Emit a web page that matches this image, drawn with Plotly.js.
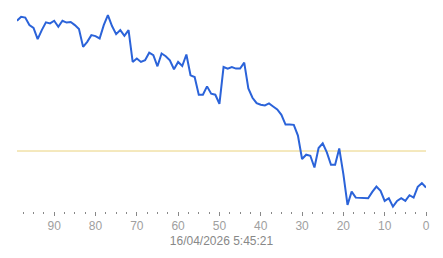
<!DOCTYPE html>
<html>
<head>
<meta charset="utf-8">
<script src="https://cdn.plot.ly/plotly-3.0.1.min.js"></script>
<style>html,body{margin:0;padding:0;background:#fff;}#chart{width:443px;height:258px;}</style>
</head>
<body>
<div id="chart"></div>
<script>
// x positions: 99 down to 0
const xValues = [99,98,97,96,95,94,93,92,91,90,89,88,87,86,85,84,83,82,81,80,79,78,77,76,75,74,73,72,71,70,69,68,67,66,65,64,63,62,61,60,59,58,57,56,55,54,53,52,51,50,49,48,47,46,45,44,43,42,41,40,39,38,37,36,35,34,33,32,31,30,29,28,27,26,25,24,23,22,21,20,19,18,17,16,15,14,13,12,11,10,9,8,7,6,5,4,3,2,1,0];
const seriesValues = [199.3,203.3,202.5,195,192.3,181,190,197.7,196.7,199.3,193.3,199.3,197.5,198,195,191,173.3,178.3,185,184,181.7,195,205,194,186,190,184.3,190,158.3,161.7,158.3,160,167.5,165,154,166.7,164,160,151,158.3,154.3,165.7,145,143.3,125.7,125.7,134,126.7,125.7,116.7,153.3,151.7,153.3,151.7,151.7,157.7,132,122.7,117.3,115.7,115,117,114,111,105.7,96,96,95.7,85,61.7,66,65,53.3,72.7,77.3,68.3,56,56,72.3,46.7,16,29.3,23.3,23.3,23,22.7,29,34.3,30,20,22.7,14.3,20,22.7,20,25.7,23.3,34,37.7,33.3];
const referenceLevel = [69.7];
const tickValues = [90,80,70,60,50,40,30,20,10,0];
const tickLabels = ["90","80","70","60","50","40","30","20","10","0"];
const timestampLabel = "16/04/2026 5:45:21";

const traces = [
  {
    x: [xValues[0], xValues[xValues.length-1]],
    y: [referenceLevel[0], referenceLevel[0]],
    mode: 'lines',
    line: {color: '#ead27c', width: 1},
    hoverinfo: 'skip'
  },
  {
    x: xValues,
    y: seriesValues,
    mode: 'lines',
    line: {color: '#2b63d9', width: 2}
  }
];

const layout = {
  width: 443,
  height: 258,
  margin: {l: 17, r: 17, t: 10, b: 47},
  paper_bgcolor: '#ffffff',
  plot_bgcolor: '#ffffff',
  showlegend: false,
  font: {family: 'Liberation Sans, Arial, sans-serif', color: '#999999', size: 12},
  xaxis: {
    range: [99, 0],
    tickmode: 'array',
    tickvals: tickValues,
    ticktext: tickLabels,
    ticks: 'outside',
    ticklen: 4,
    tickwidth: 1,
    tickcolor: '#888888',
    showgrid: false,
    zeroline: false,
    showline: false,
    tickfont: {family: 'Liberation Sans, Arial, sans-serif', size: 12, color: '#a0a0a0'},
    minor: {dtick: 2.5, tick0: 0, ticks: 'outside', ticklen: 2, tickcolor: '#888888', showgrid: false},
    title: {text: timestampLabel, font: {family: 'Liberation Sans, Arial, sans-serif', size: 12, color: '#888888'}, standoff: 4}
  },
  yaxis: {
    range: [10, 210],
    visible: false,
    showgrid: false,
    zeroline: false
  }
};

Plotly.newPlot('chart', traces, layout, {displayModeBar: false, staticPlot: true});
</script>
</body>
</html>
